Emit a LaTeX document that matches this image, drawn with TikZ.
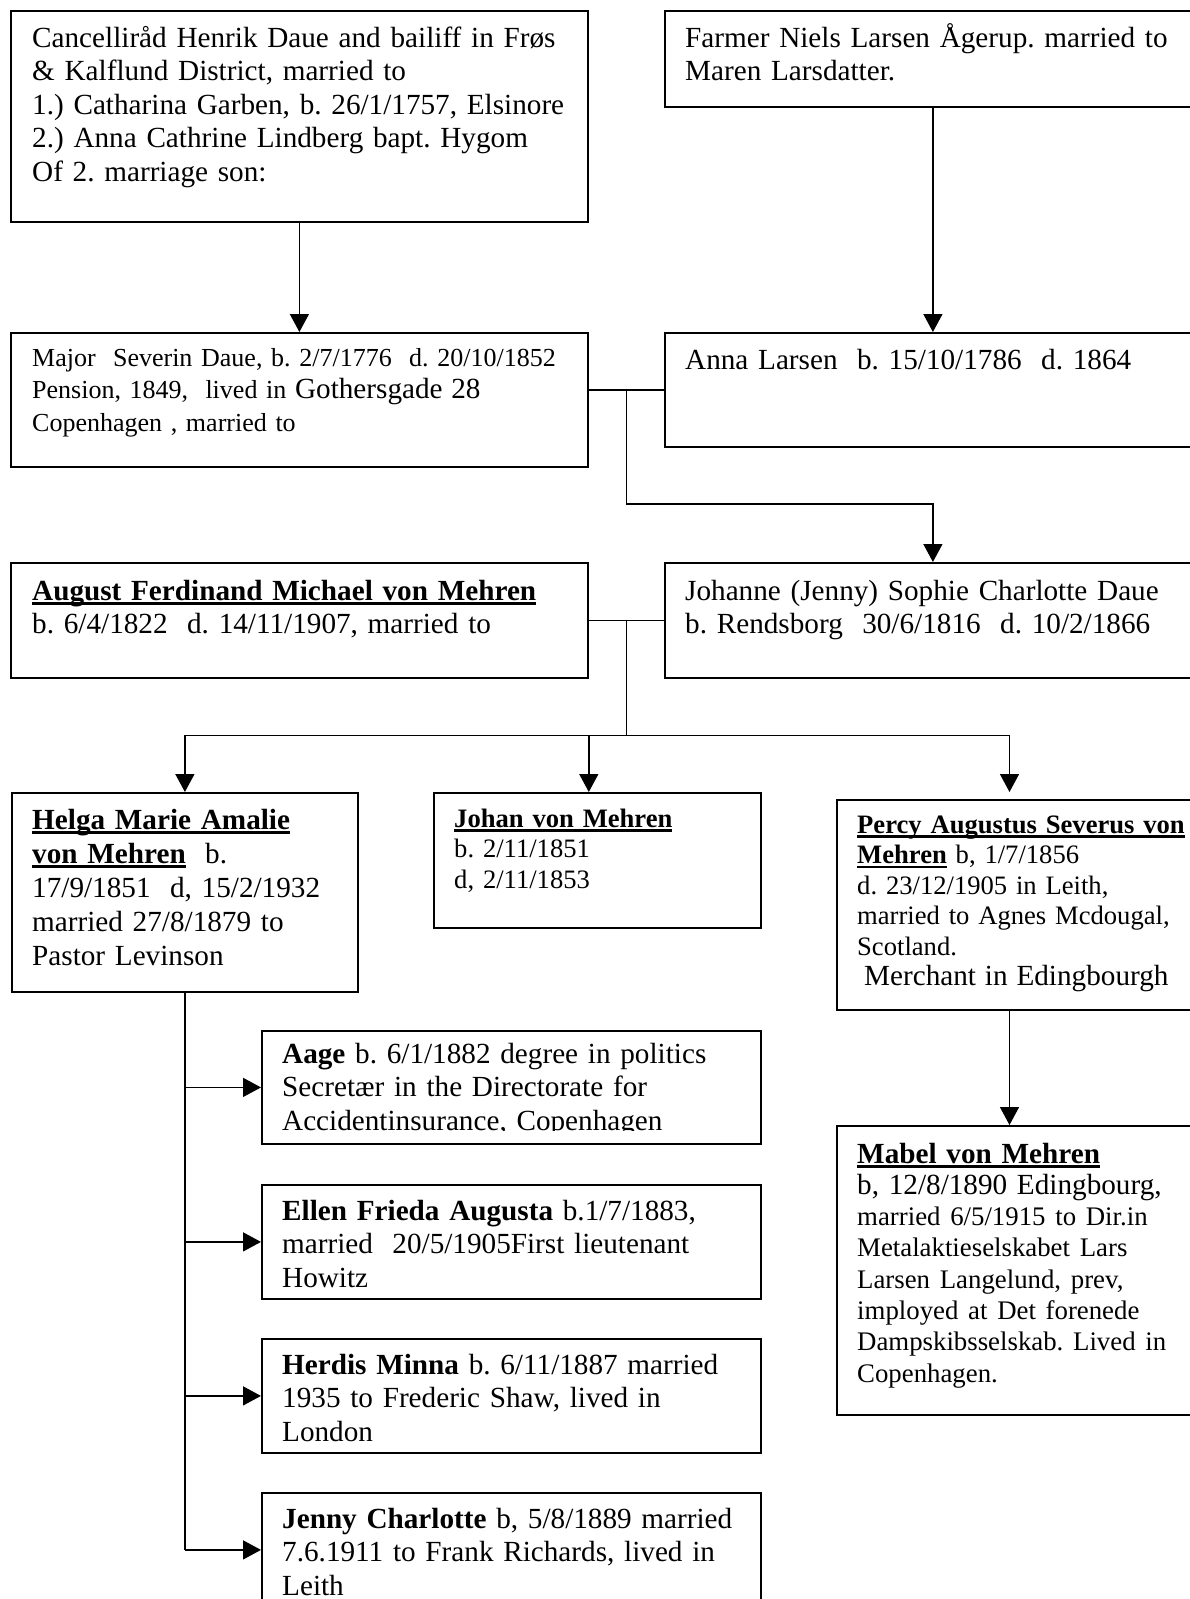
\documentclass[tikz,border=0pt]{standalone}
\usepackage{fontspec}
\setmainfont{Liberation Serif}
\usetikzlibrary{arrows.meta,calc}
\frenchspacing
\newcommand{\famfont}{\fontsize{29.2}{33.5}\selectfont}
\newcommand{\famsmall}{\fontsize{26.6}{30.5}\selectfont}
\newcommand{\famless}{\fontsize{26.8}{31.3}\selectfont}
\newcommand{\nameline}[1]{\leavevmode\setbox0=\hbox{\textbf{#1}}\rlap{\rule[-4.5pt]{\wd0}{2.4pt}}\box0\relax}
\tikzset{
    fam/.style={draw, line width=1.8pt, anchor=north west, inner sep=0pt},
    txt/.style={anchor=base west, align=left, inner sep=0pt, font=\famfont},
    link/.style={line width=1.5pt},
    arr/.style={line width=1.5pt, -{Triangle[length=18pt, width=19pt]}},
}

\begin{document}
\begin{tikzpicture}[x=1pt, y=-1pt]
    \clip (0,0) rectangle (1190,1599);
    % boxes
    \node[fam, minimum width=577pt, minimum height=211pt] (henrik) at (10,10) {};
    \node[fam, minimum width=536pt, minimum height=96pt] (niels) at (664,10) {};
    \node[fam, minimum width=577pt, minimum height=134pt] (severin) at (10,332) {};
    \node[fam, minimum width=536pt, minimum height=114pt] (anna) at (664,332) {};
    \node[fam, minimum width=577pt, minimum height=115pt] (august) at (10,562) {};
    \node[fam, minimum width=536pt, minimum height=115pt] (johanne) at (664,562) {};
    \node[fam, minimum width=346pt, minimum height=199pt] (helga) at (11,792) {};
    \node[fam, minimum width=327pt, minimum height=135pt] (johan) at (433,792) {};
    \node[fam, minimum width=364pt, minimum height=210pt] (percy) at (836,799) {};
    \node[fam, minimum width=364pt, minimum height=289pt] (mabel) at (836,1125) {};
    \node[fam, minimum width=499pt, minimum height=113pt] (aage) at (261,1030) {};
    \node[fam, minimum width=499pt, minimum height=114pt] (ellen) at (261,1184) {};
    \node[fam, minimum width=499pt, minimum height=114pt] (herdis) at (261,1338) {};
    \node[fam, minimum width=499pt, minimum height=114pt] (jenny) at (261,1492) {};

    % texts
    \node[txt, text width=545pt] (henrik-t) at ($(henrik.north west)+(22,37)$)
        {Cancelliråd Henrik Daue and bailiff in Frøs\\
         \& Kalflund District, married to\\
         1.) Catharina Garben, b. 26/1/1757, Elsinore\\
         2.) Anna Cathrine Lindberg bapt. Hygom\\
         Of 2. marriage son:};
    \node[txt, text width=500pt] (niels-t) at ($(niels.north west)+(21,37)$)
        {Farmer Niels Larsen Ågerup. married to\\
         Maren Larsdatter.};
    \node[txt, text width=545pt, font=\fontsize{26}{32.5}\selectfont] (severin-t) at ($(severin.north west)+(22,34)$)
        {Major\ \ Severin Daue, b. 2/7/1776\ \ d. 20/10/1852\\
         Pension, 1849,\ \ lived in {\famfont Gothersgade 28}\\
         Copenhagen , married to};
    \node[txt, text width=500pt] (anna-t) at ($(anna.north west)+(21,37)$)
        {Anna Larsen\ \ b. 15/10/1786\ \ d. 1864};
    \node[txt, text width=545pt] (august-t) at ($(august.north west)+(22,38)$)
        {\nameline{August Ferdinand Michael von Mehren}\\
         b. 6/4/1822\ \ d. 14/11/1907, married to};
    \node[txt, text width=500pt] (johanne-t) at ($(johanne.north west)+(21,38)$)
        {Johanne (Jenny) Sophie Charlotte Daue\\
         b. Rendsborg\ \ 30/6/1816\ \ d. 10/2/1866};
    \node[txt, text width=320pt, font=\fontsize{29.2}{34}\selectfont] (helga-t) at ($(helga.north west)+(21,37)$)
        {\nameline{Helga Marie Amalie}\\
         \nameline{von Mehren}\ \ b.\\
         17/9/1851\ \ d, 15/2/1932\\
         married 27/8/1879 to\\
         Pastor Levinson};
    \node[txt, text width=300pt, font=\famsmall] (johan-t) at ($(johan.north west)+(21,35)$)
        {\nameline{Johan von Mehren}\\
         b. 2/11/1851\\
         d, 2/11/1853};
    \node[txt, text width=340pt, font=\fontsize{26.6}{30.5}\selectfont] (percy-t) at ($(percy.north west)+(21,34)$)
        {\nameline{Percy Augustus Severus von}\\
         \nameline{Mehren} b, 1/7/1856\\
         d. 23/12/1905 in Leith,\\
         married to Agnes Mcdougal,\\
         Scotland.\\
         \hspace*{7pt}{\famfont Merchant in Edingbourgh}};
    \node[txt, text width=340pt, font=\fontsize{29.2}{31.3}\selectfont] (mabel-t) at ($(mabel.north west)+(21,38)$)
        {\nameline{Mabel von Mehren}\\
         b, 12/8/1890 Edingbourg,\\
         \famless married 6/5/1915 to Dir.in\\
         Metalaktieselskabet Lars\\
         Larsen Langelund, prev,\\
         imployed at Det forenede\\
         Dampskibsselskab. Lived in\\
         Copenhagen.};
    \begin{scope}
        \clip (aage.north west) rectangle ($(aage.south east)+(0,-14)$);
        \node[txt, text width=470pt] (aage-t) at ($(aage.north west)+(21,33)$)
            {\textbf{Aage} b. 6/1/1882 degree in politics\\
             Secretær in the Directorate for\\
             Accidentinsurance, Copenhagen};
    \end{scope}
    \node[txt, text width=470pt] (ellen-t) at ($(ellen.north west)+(21,36)$)
        {\textbf{Ellen Frieda Augusta} b.1/7/1883,\\
         married\ \ 20/5/1905First lieutenant\\
         Howitz};
    \node[txt, text width=470pt] (herdis-t) at ($(herdis.north west)+(21,36)$)
        {\textbf{Herdis Minna} b. 6/11/1887 married\\
         1935 to Frederic Shaw, lived in\\
         London};
    \node[txt, text width=470pt] (jenny-t) at ($(jenny.north west)+(21,36)$)
        {\textbf{Jenny Charlotte} b, 5/8/1889 married\\
         7.6.1911 to Frank Richards, lived in\\
         Leith};

    % connectors
    \draw[arr] (henrik) -- (severin);
    \draw[arr] (niels) -- (anna);
    \draw[link] (severin.east |- anna.west) -- (anna.west);
    \coordinate (wed1) at ($(severin.east |- anna.west)!0.5!(anna.west)$);
    \draw[arr] (wed1) -- ++(0,114) -| (johanne.north);
    \draw[link] (august.east) -- (johanne.west);
    \coordinate (wed2) at ($(august.east)!0.5!(johanne.west)$);
    \coordinate (bar) at ($(wed2)+(0,115)$);
    \coordinate (pcol) at (1009.5,0);
    \draw[link] (wed2) -- (bar);
    \draw[link] (bar -| helga.north) -- (bar -| pcol);
    \draw[arr] (bar -| helga.north) -- (helga.north);
    \draw[arr] (bar -| august.east) -- (johan.north -| august.east);
    \draw[arr, shorten >=7pt] (bar -| pcol) -- (percy.north -| pcol);
    \draw[arr] (percy.south -| pcol) -- (mabel.north -| pcol);
    \draw[link] (helga.south) -- (helga.south |- jenny.west);
    \foreach \kid in {aage,ellen,herdis,jenny}
        \draw[arr] (helga.south |- \kid.west) -- (\kid.west);
\end{tikzpicture}
\end{document}
